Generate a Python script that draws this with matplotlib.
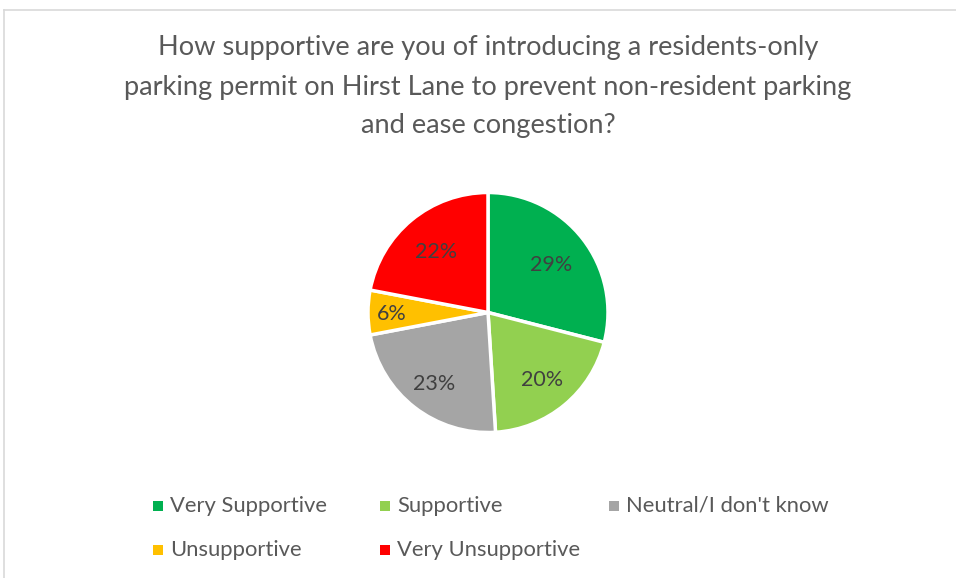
import numpy as np
import matplotlib
matplotlib.use("Agg")
import matplotlib.pyplot as plt
from matplotlib.patches import Rectangle
from matplotlib.lines import Line2D

plt.rcParams['font.family'] = ['Lato', 'DejaVu Sans']

title_lines = ["How supportive are you of introducing a residents-only",
               "parking permit on Hirst Lane to prevent non-resident parking",
               "and ease congestion?"]
categories = ["Very Supportive", "Supportive", "Neutral/I don't know",
              "Unsupportive", "Very Unsupportive"]
shares = [29, 20, 23, 6, 22]
colors = ["#00B050", "#92D050", "#A5A5A5", "#FFC000", "#FF0000"]
# radial position of each percentage label (fraction of radius)
label_dist = [0.67, 0.71, 0.73, 0.80, 0.68]

W, H = 956, 578
fig = plt.figure(figsize=(W / 100, H / 100), dpi=100)

# chart area frame (top and left edges only)
fig.add_artist(Line2D([4 / W, 1], [1 - 10 / H, 1 - 10 / H], color="#D9D9D9", lw=1.2))
fig.add_artist(Line2D([4 / W, 4 / W], [0, 1 - 10 / H], color="#D9D9D9", lw=1.2))

for i, line in enumerate(title_lines):
    fig.text(488 / W, 1 - (48 + 39 * i) / H, line, ha="center", va="center",
             fontsize=19.6, color="#595959")

cx, cy, r = 488, 312.5, 120
ax = fig.add_axes([(cx - r) / W, 1 - (cy + r) / H, 2 * r / W, 2 * r / H])
wedges, _ = ax.pie(shares, colors=colors, startangle=90, counterclock=False,
                   wedgeprops=dict(edgecolor="white", linewidth=2.5))
for w, val, d in zip(wedges, shares, label_dist):
    ang = np.deg2rad((w.theta1 + w.theta2) / 2)
    ax.text(d * np.cos(ang), d * np.sin(ang), f"{val}%", ha="center",
            va="center_baseline", fontsize=15.5, color="#404040")
ax.set_xlim(-1.0, 1.0)
ax.set_ylim(-1.0, 1.0)
ax.set_aspect("equal")
ax.axis("off")

# legend laid out in two rows
legend_x = [158, 385, 614, 158, 385]
legend_y = [506, 506, 506, 550, 550]
for name, c, lx, ly in zip(categories, colors, legend_x, legend_y):
    fig.add_artist(Rectangle(((lx - 5) / W, 1 - (ly + 5) / H), 10 / W, 10 / H,
                             facecolor=c, edgecolor="none"))
    fig.text((lx + 12) / W, 1 - ly / H, name, ha="left", va="center",
             fontsize=15.8, color="#595959")

fig.savefig("out.png", dpi=100, facecolor="white")
